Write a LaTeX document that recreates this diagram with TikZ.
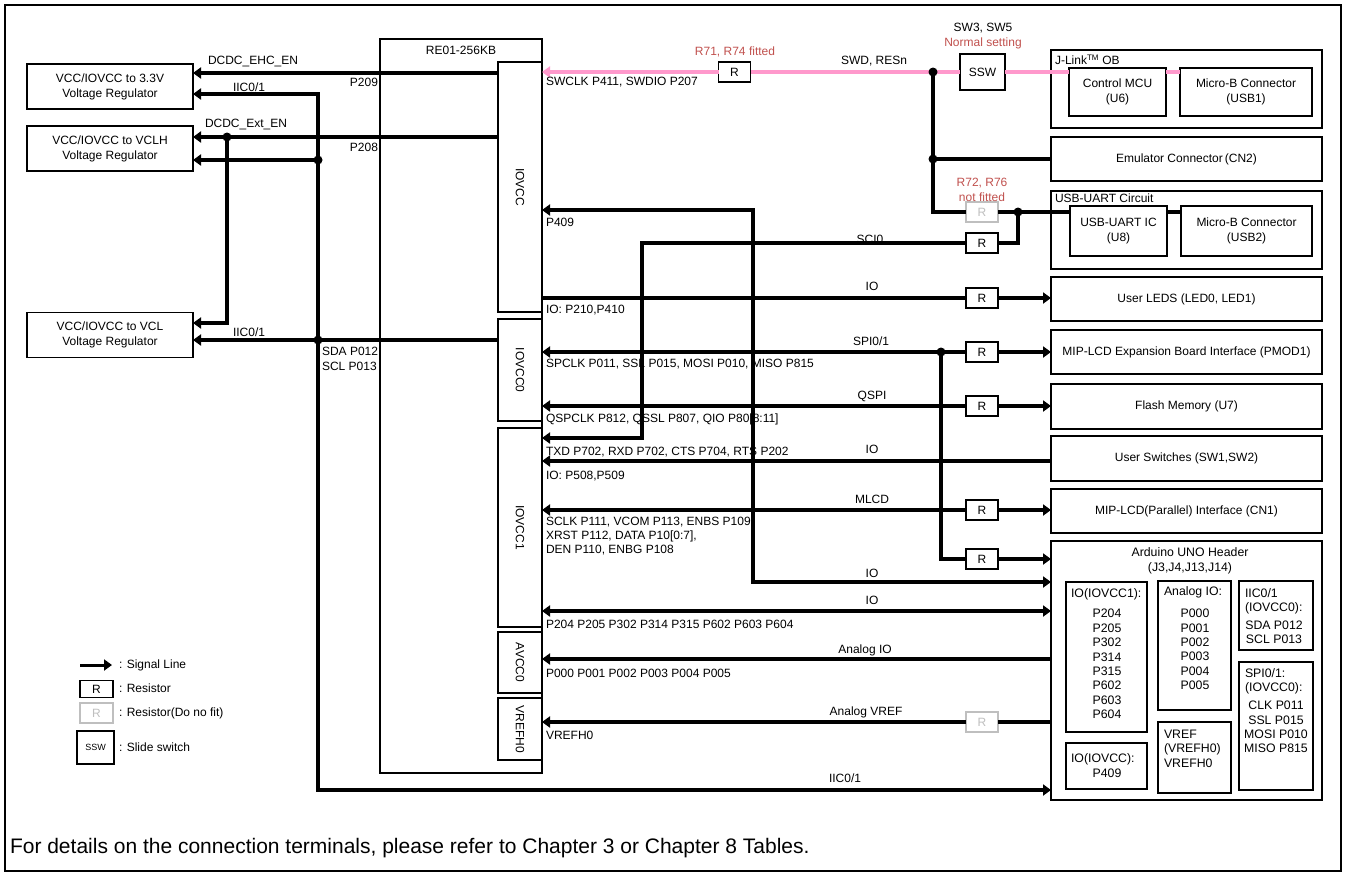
\documentclass[tikz,border=0pt]{standalone}
\usepackage{fontspec}
\setmainfont{Liberation Sans}
\usetikzlibrary{arrows.meta}
\definecolor{pinkline}{RGB}{255,153,204}
\definecolor{redtxt}{RGB}{192,80,77}
\definecolor{grayr}{RGB}{191,191,191}
\newcommand\lblf{\fontsize{12}{15}\selectfont}
\newcommand\ardf{\fontsize{12.3}{14.4}\selectfont}
\begin{document}
\begin{tikzpicture}[x=1pt,y=-1pt,
  every node/.style={inner sep=0pt, outer sep=0pt, font=\lblf},
  outerframe/.style={draw, line width=2pt},
  regbox/.style={draw, line width=1.6pt, fill=white, align=center, minimum width=166pt, minimum height=45pt},
  chip/.style={draw, line width=1.3pt, fill=white},
  subbox/.style={draw, line width=1.3pt, fill=white, minimum width=44pt},
  rbox/.style={draw, line width=2pt, fill=white, align=center, minimum width=271pt},
  ibox/.style={draw, line width=1.8pt, fill=white, align=center, minimum height=48pt},
  abox/.style={draw, line width=1.3pt, fill=white},
  res/.style={draw, line width=1.6pt, fill=white, minimum width=32pt, minimum height=20pt},
  resng/.style={res, draw=grayr, text=grayr},
  sswbox/.style={draw, line width=1.6pt, fill=white, minimum width=45pt, minimum height=36pt},
  sig/.style={line width=3.5pt},
  swd/.style={line width=4pt, draw=pinkline},
  tipR/.style={-{Triangle[length=8pt,width=11pt]}},
  tipL/.style={{Triangle[length=8pt,width=11pt]}-},
  tipLR/.style={{Triangle[length=8pt,width=11pt]}-{Triangle[length=8pt,width=11pt]}},
  jdot/.style={circle, fill=black, minimum size=9pt},
  redlbl/.style={text=redtxt},
  wlbl/.style={anchor=west, align=left},
  ardtxt/.style={font=\ardf},
]
\useasboundingbox (0,0) rectangle (1348,876);
\draw[outerframe] (5,5) rectangle (1341,871);

% ---------- regulators ----------
\node[regbox] (reg1) at (110,86.5) {VCC/IOVCC to 3.3V\\Voltage Regulator};
\node[regbox] (reg2) at (110,148.5) {VCC/IOVCC to VCLH\\Voltage Regulator};
\node[regbox] (reg3) at (110,335) {VCC/IOVCC to VCL\\Voltage Regulator};

% ---------- MCU ----------
\node[chip, minimum width=162pt, minimum height=734pt] (re01) at (461,406) {};
\node (re01lbl) at (461,50) {RE01-256KB};
\node[subbox, minimum height=250pt] (iovcc) at (520,187) {};
\node[rotate=-90] (iovcclbl) at (iovcc) {IOVCC};
\node[subbox, minimum height=102pt] (iovcc0) at (520,370) {};
\node[rotate=-90] (iovcc0lbl) at (iovcc0) {IOVCC0};
\node[subbox, minimum height=199pt] (iovcc1) at (520,527.5) {};
\node[rotate=-90] (iovcc1lbl) at (iovcc1) {IOVCC1};
\node[subbox, minimum height=61pt] (avcc0) at (520,662.5) {};
\node[rotate=-90] (avcc0lbl) at (avcc0) {AVCC0};
\node[subbox, minimum height=62pt] (vrefh0) at (520,729) {};
\node[rotate=-90] (vrefh0lbl) at (vrefh0) {VREFH0};

% ---------- right blocks ----------
\node[rbox, minimum height=78pt] (jlink) at (1186.5,89) {};
\node[anchor=west] (jlinklbl) at (1055,60) {J-Link\textsuperscript{TM} OB};
\node[ibox, minimum width=97pt] (ctrl) at (1117.5,92) {Control MCU\\(U6)};
\node[ibox, minimum width=132pt] (usb1) at (1246,92) {Micro-B Connector\\(USB1)};
\node[rbox, minimum height=44pt] (emu) at (1186.5,159) {Emulator Connector\,(CN2)};
\node[rbox, minimum height=78pt] (uartc) at (1186.5,230) {};
\node[anchor=west] (uartlbl) at (1055,198) {USB-UART Circuit};
\node[ibox, minimum width=97pt, minimum height=50pt] (uartic) at (1118.5,231) {USB-UART IC\\(U8)};
\node[ibox, minimum width=131pt, minimum height=50pt] (usb2) at (1246.5,231) {Micro-B Connector\\(USB2)};
\node[rbox, minimum height=44pt] (leds) at (1186.5,299) {User LEDS (LED0, LED1)};
\node[rbox, minimum height=44pt] (pmod) at (1186.5,352) {MIP-LCD Expansion Board Interface (PMOD1)};
\node[rbox, minimum height=45pt] (flash) at (1186.5,406.5) {Flash Memory (U7)};
\node[rbox, minimum height=45pt] (usw) at (1186.5,458.5) {User Switches (SW1,SW2)};
\node[rbox, minimum height=44pt] (mlcd) at (1186.5,511) {MIP-LCD(Parallel) Interface (CN1)};
\node[rbox, minimum height=259pt] (ard) at (1186.5,670.5) {};
\node[ardtxt, align=center] (ardlbl) at (1190,561) {Arduino UNO Header\\(J3,J4,J13,J14)};

\node[abox, minimum width=81pt, minimum height=150pt] (aio1) at (1106.5,657) {};
\node[ardtxt, wlbl] (aio1t) at (1071,594) {IO(IOVCC1):};
\node[ardtxt, align=center] (aio1p) at (1107,664) {P204\\P205\\P302\\P314\\P315\\P602\\P603\\P604};
\node[abox, minimum width=73pt, minimum height=129pt] (aana) at (1194.5,645.5) {};
\node[ardtxt, wlbl] (aanat) at (1164,592) {Analog IO:};
\node[ardtxt, align=center] (aanap) at (1195,649.5) {P000\\P001\\P002\\P003\\P004\\P005};
\node[abox, minimum width=74pt, minimum height=69pt] (aiic) at (1276,615.5) {};
\node[ardtxt, wlbl] (aiict) at (1245,601.5) {IIC0/1\\(IOVCC0):};
\node[ardtxt, align=center] (aiicp) at (1274,632) {SDA P012\\SCL P013};
\node[abox, minimum width=74pt, minimum height=128pt] (aspi) at (1276,726) {};
\node[ardtxt, wlbl] (aspit) at (1245,681.5) {SPI0/1:\\(IOVCC0):};
\node[ardtxt, align=center] (aspip) at (1276,727) {CLK P011\\SSL P015\\MOSI P010\\MISO P815};
\node[abox, minimum width=81pt, minimum height=46pt] (aio2) at (1106.5,766) {};
\node[ardtxt, wlbl] (aio2t) at (1071,759) {IO(IOVCC):};
\node[ardtxt] (aio2p) at (1107,773) {P409};
\node[abox, minimum width=73pt, minimum height=71pt] (avref) at (1194.5,757.5) {};
\node[ardtxt, wlbl] (avreft) at (1164,748.5) {VREF\\(VREFH0)\\VREFH0};

% ---------- resistors / switch ----------
\node[res] (r71) at (734.5,72) {R};
\node[sswbox] (ssw) at (982.5,72) {SSW};
\node[resng] (r72) at (982,212) {R};
\node[res] (rsci) at (982,243) {R};
\node[res] (rled) at (982,298) {R};
\node[res] (rspi) at (982,352) {R};
\node[res] (rq) at (982,406) {R};
\node[res] (rm) at (982,510) {R};
\node[res] (rspi2) at (982,559) {R};
\node[resng] (rvref) at (982,722) {R};

% ---------- helper coordinates ----------
\coordinate (y73) at (0,73);
\coordinate (c318a) at (318,94);
\coordinate (c318b) at (318,790);
\coordinate (d318a) at (318,160);
\coordinate (d318b) at (318,340);
\coordinate (d227) at (227,137);
\coordinate (c227) at (227,323);
\coordinate (d933a) at (933,72);
\coordinate (d933b) at (933,159);
\coordinate (c933) at (933,212);
\coordinate (d1018) at (1018,212);
\coordinate (c1018) at (1018,243);
\coordinate (c642a) at (642,243);
\coordinate (c642b) at (642,438);
\coordinate (c753a) at (753,210);
\coordinate (c753b) at (753,582);
\coordinate (d941) at (941,352);
\coordinate (c941) at (941,559);
\coordinate (y461) at (0,461);
\coordinate (y611) at (0,611);
\coordinate (y659) at (0,659);

% ---------- left signals ----------
\draw[sig,tipR] (iovcc.west|-y73) -- (reg1.east|-y73);
\draw[sig,tipLR] (reg1.east|-c318a) -- (c318a) -- (c318b) -- (ard.west|-c318b);
\draw[sig,tipR] (iovcc.west|-d227) -- (reg2.east|-d227);
\draw[sig,tipR] (d227) -- (c227) -- (reg3.east|-c227);
\draw[sig,tipR] (d318a) -- (reg2.east|-d318a);
\draw[sig,tipR] (iovcc0.west|-d318b) -- (reg3.east|-d318b);

% ---------- SWD (pink) ----------
\draw[swd] (usb1.west|-ssw.east) -- (ctrl.east|-ssw.east);
\draw[swd] (ctrl.west|-ssw.east) -- (ssw.east);
\draw[swd] (ssw.west) -- (r71.east);
\draw[swd,tipR] (r71.west) -- (iovcc.east|-r71.west);

% ---------- right signals ----------
\draw[sig] (d933a) -- (c933) -- (r72.west);
\draw[sig] (d933b) -- (emu.west|-d933b);
\draw[sig] (r72.east) -- (d1018) -- (uartic.west|-d1018);
\draw[sig] (uartic.east|-d1018) -- (usb2.west|-d1018);
\draw[sig] (rsci.east) -- (c1018) -- (d1018);
\draw[sig,tipR] (rsci.west) -- (c642a) -- (c642b) -- (iovcc1.east|-c642b);
\draw[sig,tipLR] (ard.west|-c753b) -- (c753b) -- (c753a) -- (iovcc.east|-c753a);
\draw[sig] (iovcc.east|-rled.west) -- (rled.west);
\draw[sig,tipR] (rled.east) -- (leds.west|-rled.east);
\draw[sig,tipL] (iovcc0.east|-rspi.west) -- (rspi.west);
\draw[sig,tipR] (rspi.east) -- (pmod.west|-rspi.east);
\draw[sig] (d941) -- (c941) -- (rspi2.west);
\draw[sig,tipR] (rspi2.east) -- (ard.west|-rspi2.east);
\draw[sig,tipL] (iovcc0.east|-rq.west) -- (rq.west);
\draw[sig,tipR] (rq.east) -- (flash.west|-rq.east);
\draw[sig,tipR] (usw.west|-y461) -- (iovcc1.east|-y461);
\draw[sig,tipL] (iovcc1.east|-rm.west) -- (rm.west);
\draw[sig,tipR] (rm.east) -- (mlcd.west|-rm.east);
\draw[sig,tipLR] (ard.west|-y611) -- (iovcc1.east|-y611);
\draw[sig,tipR] (ard.west|-y659) -- (avcc0.east|-y659);
\draw[sig] (ard.west|-rvref.east) -- (rvref.east);
\draw[sig,tipR] (rvref.west) -- (vrefh0.east|-rvref.west);

% ---------- junction dots ----------
\node[jdot] (n227) at (d227) {};
\node[jdot] (n318a) at (d318a) {};
\node[jdot] (n318b) at (d318b) {};
\node[jdot] (n933a) at (d933a) {};
\node[jdot] (n933b) at (d933b) {};
\node[jdot] (n1018) at (d1018) {};
\node[jdot] (n941) at (d941) {};

% ---------- left labels ----------
\node[anchor=west] (tEHC) at (208,61) {DCDC\_EHC\_EN};
\node[anchor=west] (tIIC1) at (233,87) {IIC0/1};
\node[anchor=east] (tP209) at (378,82) {P209};
\node[anchor=west] (tExt) at (205,124) {DCDC\_Ext\_EN};
\node[anchor=east] (tP208) at (378,147) {P208};
\node[anchor=west] (tIIC3) at (233,332) {IIC0/1};
\node[wlbl] (tSDA) at (322,358.5) {SDA P012\\SCL P013};

% ---------- signal labels ----------
\node (tSWD) at (874,61) {SWD, RESn};
\node[redlbl] (tR71) at (735,52) {R71, R74 fitted};
\node (tSW3) at (983,28) {SW3, SW5};
\node[redlbl] (tNorm) at (983,43) {Normal setting};
\node[redlbl, align=center] (tR72) at (982,190) {R72, R76\\not fitted};
\node (tSCI) at (870,239) {SCI0};
\node (tIO1) at (872,286) {IO};
\node (tSPI) at (871,341) {SPI0/1};
\node (tQSPI) at (872,396) {QSPI};
\node (tIO2) at (872,449) {IO};
\node (tMLCD) at (872,499) {MLCD};
\node (tIO3) at (872,573) {IO};
\node (tIO4) at (872,600) {IO};
\node (tAIO) at (865,650) {Analog IO};
\node (tAVR) at (866,712) {Analog VREF};
\node (tIIC) at (845,778) {IIC0/1};

\node[wlbl] (pSWCLK) at (546,82) {SWCLK P411, SWDIO P207};
\node[wlbl] (pP409) at (546,222) {P409};
\node[wlbl] (pIO1) at (546,310) {IO: P210,P410};
\node[wlbl] (pSPI) at (546,364) {SPCLK P011, SSL P015, MOSI P010, MISO P815};
\node[wlbl] (pQSPI) at (546,419) {QSPCLK P812, QSSL P807, QIO P80[8:11]};
\node[wlbl] (pTXD) at (546,452) {TXD P702, RXD P702, CTS P704, RTS P202};
\node[wlbl] (pIO2) at (546,476) {IO: P508,P509};
\node[wlbl, font=\fontsize{12}{14}\selectfont] (pMLCD) at (546,536) {SCLK P111, VCOM P113, ENBS P109\\XRST P112, DATA P10[0:7],\\DEN P110, ENBG P108};
\node[wlbl] (pIO3) at (546,624) {P204 P205 P302 P314 P315 P602 P603 P604};
\node[wlbl] (pAIO) at (546,673) {P000 P001 P002 P003 P004 P005};
\node[wlbl] (pVREF) at (546,735) {VREFH0};

% ---------- legend ----------
\coordinate (lgA) at (80,665);
\coordinate (lgB) at (112,665);
\draw[line width=3pt,tipR] (lgA) -- (lgB);
\node[anchor=west] (lg1) at (119,665) {: Signal Line};
\node[res, minimum width=33pt, minimum height=17pt] (lgR) at (96.5,689) {R};
\node[anchor=west] (lg2) at (119,688) {: Resistor};
\node[resng, minimum width=33pt] (lgRn) at (96.5,713) {R};
\node[anchor=west] (lg3) at (119,713) {: Resistor(Do no fit)};
\node[sswbox, minimum width=37pt, minimum height=33pt, font=\fontsize{9}{10}\selectfont] (lgS) at (95.5,747.5) {SSW};
\node[anchor=west] (lg4) at (119,747) {: Slide switch};

% ---------- footnote ----------
\node[anchor=west, font=\fontsize{21}{24}\selectfont] (foot) at (10,848) {For details on the connection terminals, please refer to Chapter 3 or Chapter 8 Tables.};
\end{tikzpicture}
\end{document}
